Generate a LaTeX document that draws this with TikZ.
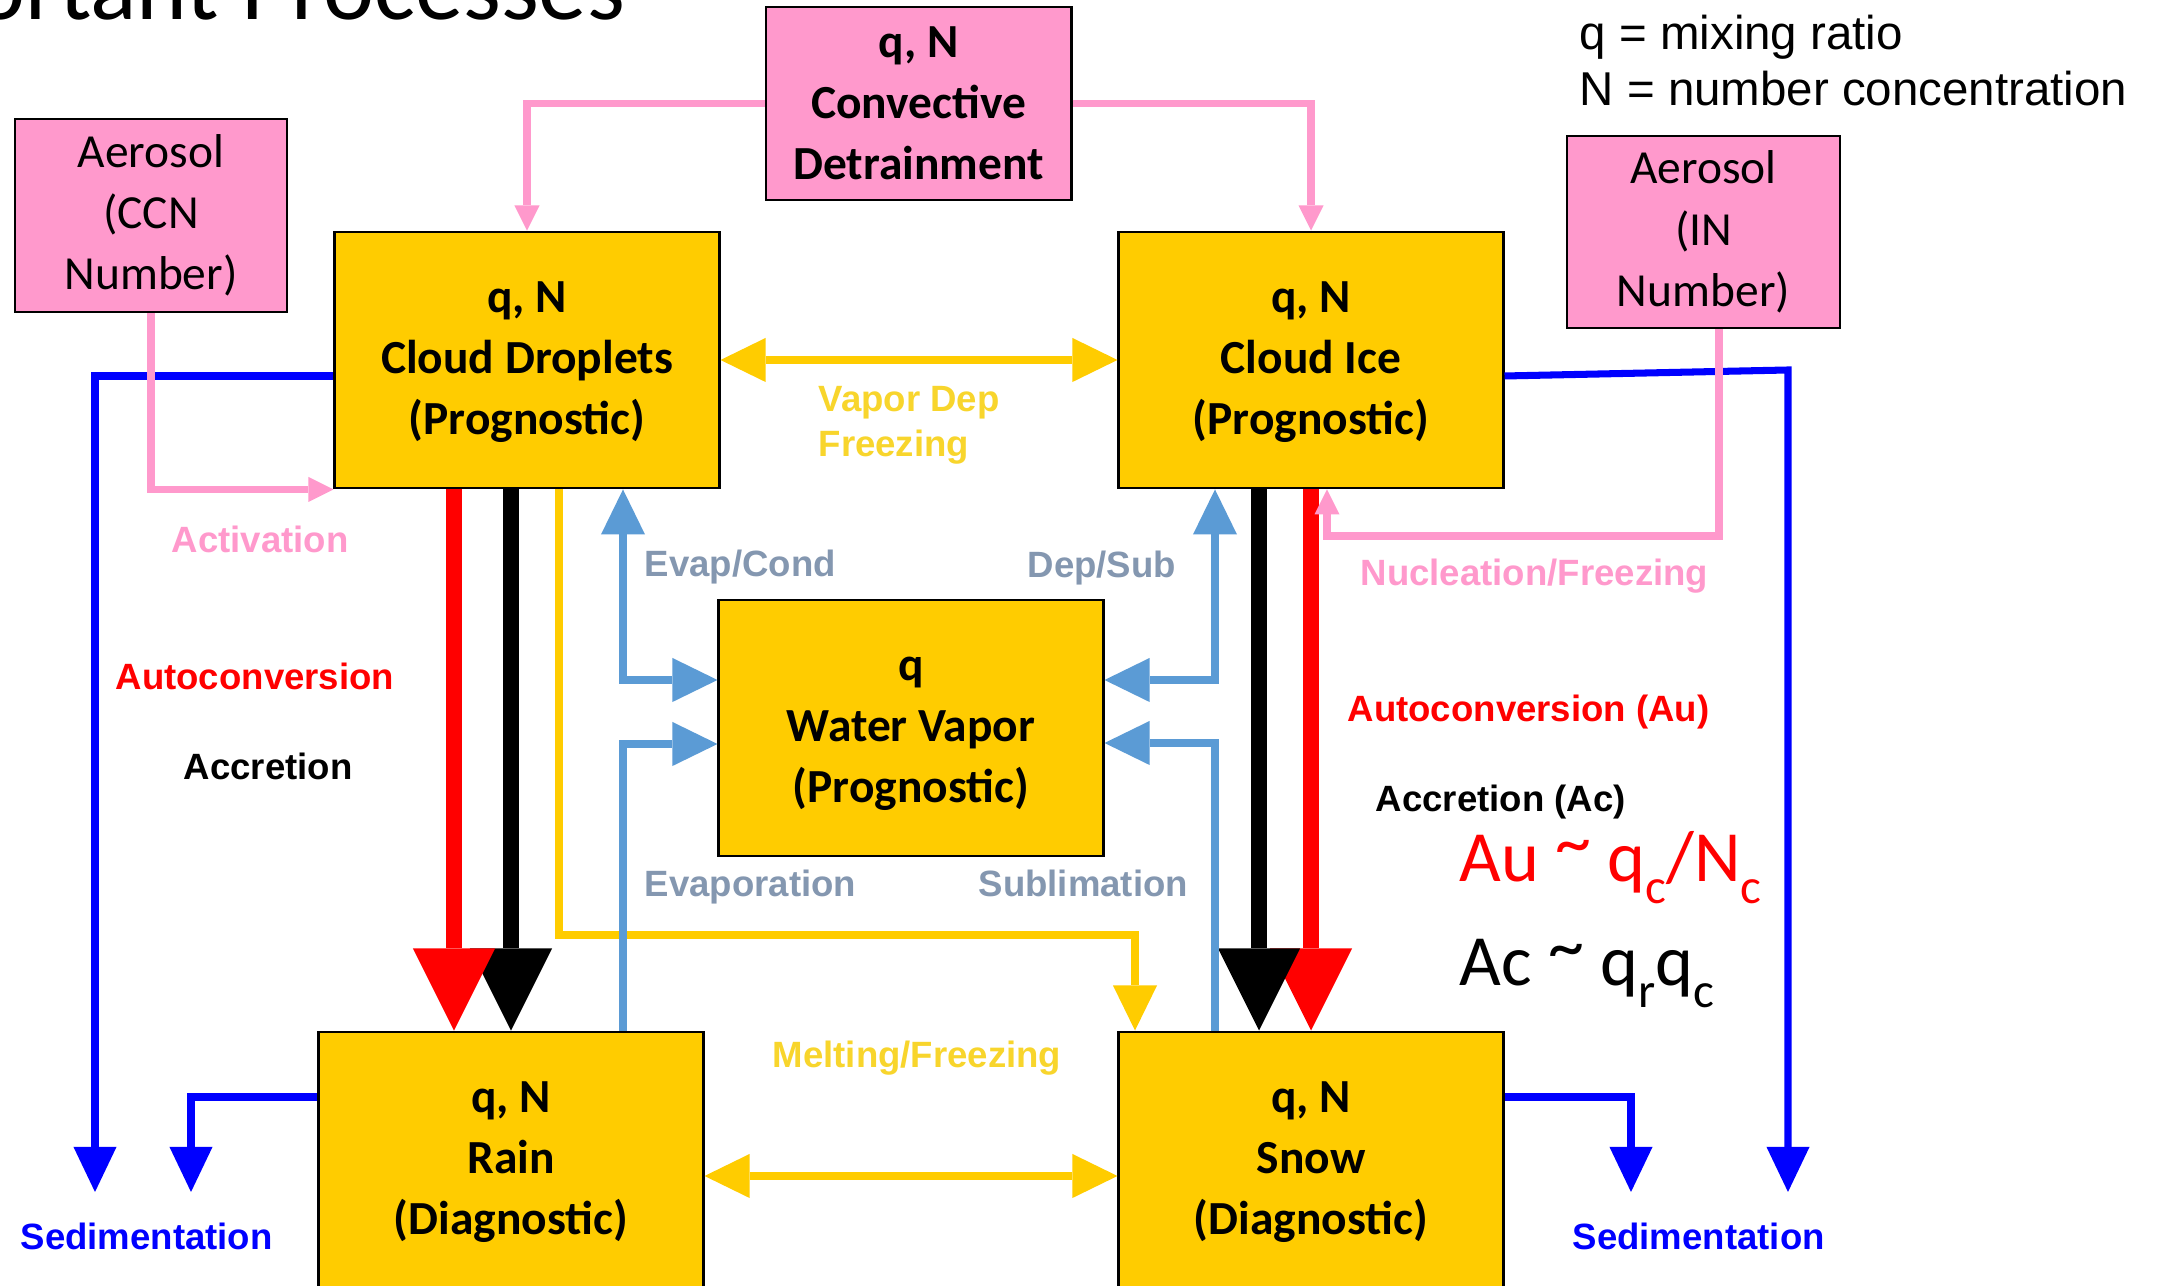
\documentclass[tikz,border=0pt]{standalone}
\usepackage{fontspec}
\setmainfont{Carlito}
\newfontfamily\arialf{Liberation Sans}
\usetikzlibrary{arrows.meta,calc}
\definecolor{boxy}{HTML}{FFCC00}
\definecolor{pinkc}{HTML}{FF99CC}
\definecolor{lblue}{HTML}{5B9BD5}
\definecolor{gblue}{HTML}{8497B0}
\definecolor{blu}{HTML}{0000FF}
\definecolor{redc}{HTML}{FF0000}
\definecolor{ylab}{HTML}{F8D52C}
\newcommand\sbx[1]{\raisebox{-6.2pt}{\fontsize{14}{14}\selectfont #1}}
\newcommand\tld{\raisebox{4.3pt}{\textasciitilde}}
\newcommand\tstrut{\rule{0pt}{10pt}}
\tikzset{
  bigbox/.style={draw=black, line width=0.8pt, fill=boxy, minimum width=3.84cm, minimum height=2.56cm,
    inner sep=0pt, align=center, font=\bfseries\fontsize{13.5}{17.4}\selectfont},
  pinkbox/.style={draw=black, line width=0.8pt, fill=pinkc, inner sep=0pt, align=center,
    font=\fontsize{13.5}{17.4}\selectfont},
  lab/.style={anchor=base west, inner sep=0pt, font=\arialf\bfseries\fontsize{10.4}{12.8}\selectfont},
  plain/.style={anchor=base west, inner sep=0pt},
  pinkln/.style={draw=pinkc, line width=2.1pt, -{Triangle[length=0.25cm,width=0.25cm,line width=0pt]}},
  blueln/.style={draw=blu, line width=2pt, -{Triangle[length=0.45cm,width=0.43cm,line width=0pt]}},
  lbln/.style={draw=lblue, line width=2.3pt},
  yelln/.style={draw=boxy, line width=2.3pt},
  bigln/.style={line width=4.55pt, -{Triangle[length=0.82cm,width=0.82cm,line width=0pt]}},
  lbtip/.tip={Triangle[length=0.45cm,width=0.44cm,line width=0pt]},
  ytip/.tip={Triangle[length=0.45cm,width=0.44cm,line width=0pt]}
}
\begin{document}
\begin{tikzpicture}[x=0.01cm,y=-0.01cm]
\useasboundingbox (0,0) rectangle (2159,1286);
\fill[white] (0,0) rectangle (2159,1286);

% title (cut off) and legend
\node[plain, font=\fontsize{27.5}{30}\selectfont] (title) at (-26,20) {ortant Processes};
\node[plain, font=\arialf\fontsize{13.5}{16}\selectfont] (leg1) at (1579,50) {q = mixing ratio};
\node[plain, font=\arialf\fontsize{13.5}{16}\selectfont] (leg2) at (1579,106) {N = number concentration};

% boxes
\node[pinkbox, minimum width=2.72cm, minimum height=1.93cm] (ccn) at (151,215.5) {Aerosol\\(CCN\\Number)};
\node[pinkbox, minimum width=2.73cm, minimum height=1.92cm] (in) at (1703.5,232) {Aerosol\\(IN\\Number)};
\node[pinkbox, minimum width=3.05cm, minimum height=1.93cm, font=\bfseries\fontsize{13.5}{17.4}\selectfont] (conv) at (918.5,103.5) {q, N\\Convective\\Detrainment};
\node[bigbox] (cd) at (527,360) {\tstrut q, N\\Cloud Droplets\\(Prognostic)};
\node[bigbox] (ci) at (1311,360) {\tstrut q, N\\Cloud Ice\\(Prognostic)};
\node[bigbox] (wv) at (911,728) {\tstrut q\\Water Vapor\\(Prognostic)};
\node[bigbox] (rain) at (511,1160) {\tstrut q, N\\Rain\\(Diagnostic)};
\node[bigbox] (snow) at (1311,1160) {\tstrut q, N\\Snow\\(Diagnostic)};

% routing coordinates
\coordinate (xr1) at (454,0);
\coordinate (xb1) at (511,0);
\coordinate (xb2) at (1259,0);
\coordinate (yl) at (559,935);
\coordinate (yr) at (1135,935);
\coordinate (lb1) at (623,680);
\coordinate (lb2) at (623,744);
\coordinate (lb3) at (1215,680);
\coordinate (lb4) at (1215,743);
\coordinate (ym) at (0,1176);
\coordinate (by1) at (0,376);
\coordinate (by2) at (0,1097);
\coordinate (bk) at (1788,370);
\coordinate (b1) at (95,1192);
\coordinate (b2) at (191,1192);
\coordinate (b3) at (1631,1192);
\coordinate (b4) at (1788,1192);
\coordinate (nx) at (1719,536);
\coordinate (nt) at (1327,0);

% sedimentation (blue)
\draw[blueln] (cd.west |- by1) -| (b1);
\draw[blueln] (rain.west |- by2) -| (b2);
\draw[blueln] (ci.east |- by1) -- (bk) -- (b4);
\draw[blueln] (snow.east |- by2) -| (b3);

% autoconversion / accretion
\draw[bigln, black] (cd.south -| xb1) -- (rain.north -| xb1);
\draw[bigln, redc] (cd.south -| xr1) -- (rain.north -| xr1);
\draw[bigln, redc] (ci.south) -- (snow.north);
\draw[bigln, black] (ci.south -| xb2) -- (snow.north -| xb2);

% yellow
\draw[yelln, -{ytip}] (cd.south -| yl) |- (yr) -- (snow.north -| yr);
\draw[yelln, {ytip}-{ytip}] (cd.east) -- (ci.west);
\draw[yelln, {ytip}-{ytip}] (rain.east |- ym) -- (snow.west |- ym);

% light blue
\draw[lbln, {lbtip}-{lbtip}] (cd.south -| lb1) |- (wv.west |- lb1);
\draw[lbln, -{lbtip}] (rain.north -| lb2) |- (wv.west |- lb2);
\draw[lbln, {lbtip}-{lbtip}] (ci.south -| lb3) |- (wv.east |- lb3);
\draw[lbln, -{lbtip}] (snow.north -| lb4) |- (wv.east |- lb4);

% pink
\draw[pinkln] (conv.west) -| (cd.north);
\draw[pinkln] (conv.east) -| (ci.north);
\draw[pinkln] (ccn.south) |- (cd.south west);
\draw[pinkln] (in.south -| nx) |- (nt |- nx) -- (nt |- ci.south);

% labels
\node[lab, text=pinkc] (lact) at (171,553) {Activation};
\node[lab, text=redc] (lauto) at (115,690) {Autoconversion};
\node[lab, text=black] (lacc) at (183,780) {Accretion};
\node[lab, text=gblue] (lec) at (644,577) {Evap/Cond};
\node[lab, text=gblue] (lds) at (1027,578) {Dep/Sub};
\node[lab, text=gblue] (lev) at (644,897) {Evaporation};
\node[lab, text=gblue] (lsub) at (978,897) {Sublimation};
\node[lab, text=ylab] (lvd) at (818,412) {Vapor Dep};
\node[lab, text=ylab] (lfr) at (818,457) {Freezing};
\node[lab, text=ylab] (lmf) at (772,1068) {Melting/Freezing};
\node[lab, text=pinkc] (lnuc) at (1360,586) {Nucleation/Freezing};
\node[lab, text=redc] (lau) at (1347,722) {Autoconversion (Au)};
\node[lab, text=black] (lac) at (1375,812) {Accretion (Ac)};
\node[lab, text=blu] (lsed1) at (20,1250) {Sedimentation};
\node[lab, text=blu] (lsed2) at (1572,1250) {Sedimentation};

% formulas
\node[plain, text=redc, font=\fontsize{20.5}{24}\selectfont] (fau) at (1459,882) {Au \tld{} q\sbx{c}/N\sbx{c}};
\node[plain, text=black, font=\fontsize{20.5}{24}\selectfont] (fac) at (1459,986) {Ac \tld{} q\sbx{r}q\sbx{c}};
\end{tikzpicture}
\end{document}
